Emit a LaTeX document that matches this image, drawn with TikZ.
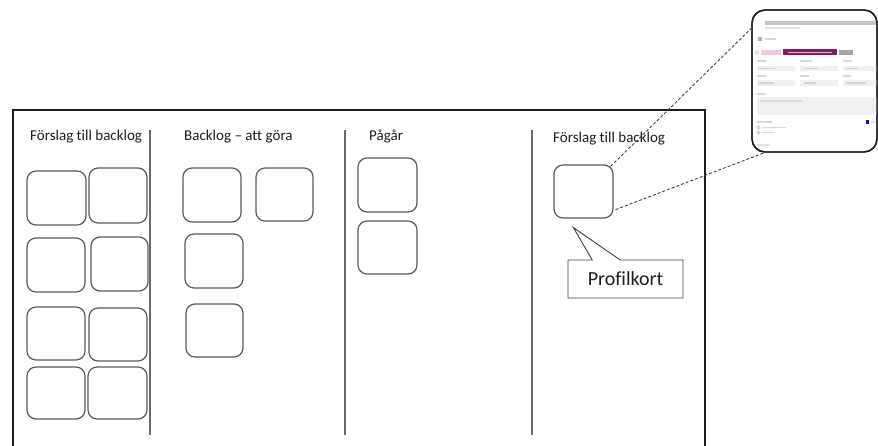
\documentclass[tikz,border=0pt]{standalone}
\usepackage{fontspec}
\setmainfont{Carlito}[Ligatures=NoCommon]
\usetikzlibrary{shapes.callouts}

\definecolor{ink}{HTML}{1E1E1E}
\definecolor{cardline}{HTML}{5A5A5A}
\definecolor{plum}{HTML}{8A1B5E}
\definecolor{blush}{HTML}{F2C9E0}

\tikzset{
  board/.style={draw=ink, line width=1.1pt},
  divider/.style={draw=cardline!90, line width=1.5pt},
  header/.style={anchor=base west, inner sep=0pt, text=ink,
                 font=\fontsize{15}{18}\selectfont},
  card/.style={draw=cardline, line width=1.2pt, rounded corners=9pt,
               inner sep=0pt},
  link/.style={draw=ink!85, line width=0.9pt, dash pattern=on 3pt off 2pt},
  callbox/.style={rectangle callout, draw=ink!85, line width=0.9pt, fill=white,
                  minimum width=115pt, minimum height=38pt, inner sep=0pt,
                  callout pointer width=28pt, text=ink,
                  font=\fontsize{20}{24}\selectfont},
  shotframe/.style={draw=ink, line width=1.4pt, rounded corners=13pt,
                    inner sep=0pt, fill=white},
  faint/.style={fill=gray!30, draw=none},
  field/.style={fill=gray!12, draw=none}
}

% card from its corner coordinates
\newcommand\card[5]{%
  \node[card, minimum width={(#4-#2)*1pt}, minimum height={(#5-#3)*1pt}]
    (#1) at ({(#2+#4)/2},{(#3+#5)/2}) {};}

\begin{document}
\begin{tikzpicture}[x=1pt, y=-1pt]
\useasboundingbox (0,0) rectangle (878,446);

% the board, open at the bottom
\draw[board] (13,446) -- (13,110) -- (705,110) -- (705,446);

% column dividers
\coordinate (d1t) at (150,130); \coordinate (d1b) at (150,435);
\coordinate (d2t) at (345,130); \coordinate (d2b) at (345,435);
\coordinate (d3t) at (532,130); \coordinate (d3b) at (532,435);
\draw[divider] (d1t) -- (d1b);
\draw[divider] (d2t) -- (d2b);
\draw[divider] (d3t) -- (d3b);

% column headers
\node[header] (h1) at (30,141)  {Förslag till backlog};
\node[header] (h2) at (184,141) {Backlog – att göra};
\node[header] (h3) at (369,141) {Pågår};
\node[header] (h4) at (553,143) {Förslag till backlog};

% cards: proposals
\card{a1}{27}{171}{86}{225}
\card{a2}{89}{168}{147}{223}
\card{a3}{27}{238}{85}{292}
\card{a4}{91}{237}{148}{291}
\card{a5}{27}{307}{85}{360}
\card{a6}{89}{308}{147}{361}
\card{a7}{27}{367}{85}{419}
\card{a8}{88}{367}{147}{419}

% cards: backlog
\card{b1}{183}{168}{241}{222}
\card{b2}{256}{168}{313}{221}
\card{b3}{185}{234}{243}{288}
\card{b4}{186}{304}{243}{357}

% cards: in progress
\card{p1}{358}{158}{417}{212}
\card{p2}{358}{221}{417}{274}

% card: proposal with profile
\card{c4}{554}{165}{613}{218}

% callout naming the card
\node[callbox, callout absolute pointer={([xshift=20pt,yshift=-9pt]c4.south west)}]
  (prof) at (625.5,279) {Profilkort};

% enlarged profile card
\node[shotframe, minimum width=125pt, minimum height=142pt] (shot) at (814.5,81) {};
\begin{scope}
  \clip[rounded corners=13pt] (752,10) rectangle (877,152);
  % title and subtitle
  \fill[gray!45] (765,21) rectangle (876,25);
  \fill[gray!22] (765,27) rectangle (800,29);
  % project line
  \fill[gray!60] (758,37) rectangle (762,41);
  \fill[faint] (765,38) rectangle (776,40);
  % labels row
  \draw[gray!60, line width=0.4pt] (757,52.5) circle (1.8);
  \fill[blush] (761,50) rectangle (781,55);
  \fill[plum] (783,49.5) rectangle (837,55.5);
  \fill[white!70!plum] (788,52) rectangle (832,53);
  \fill[gray!70] (839,50) rectangle (853,55);
  % bucket, progress, priority
  \fill[faint] (757,60) rectangle (766,62);
  \fill[faint] (800,60) rectangle (812,62);
  \fill[faint] (843,60) rectangle (852,62);
  \fill[field] (757,66) rectangle (795,71);
  \fill[field] (800,66) rectangle (838,71);
  \fill[field] (843,66) rectangle (877,71);
  \fill[gray!35] (759,68) rectangle (775,69.5);
  \fill[gray!35] (804,68) rectangle (818,69.5);
  \fill[gray!35] (846,68) rectangle (858,69.5);
  % dates and repeat
  \fill[faint] (757,75) rectangle (766,77);
  \fill[faint] (800,75) rectangle (809,77);
  \fill[faint] (843,75) rectangle (851,77);
  \fill[field] (757,80) rectangle (795,86);
  \fill[field] (800,80) rectangle (838,86);
  \fill[field] (843,80) rectangle (877,86);
  \fill[gray!35] (759,82.5) rectangle (774,84);
  \fill[gray!35] (804,82.5) rectangle (816,84);
  \fill[gray!35] (846,82.5) rectangle (866,84);
  % notes
  \fill[faint] (757,93) rectangle (765,95);
  \fill[field] (757,97) rectangle (877,115);
  \fill[gray!28] (760,100) rectangle (802,102);
  % checklist
  \fill[faint] (757,121) rectangle (772,123);
  \fill[blue!55!violet] (866,120.5) rectangle (869,124);
  \fill[gray!25] (871,121.5) rectangle (877,123);
  \draw[gray!55, line width=0.4pt] (758.5,127.5) circle (1.5);
  \fill[gray!28] (762,126.8) rectangle (786,128.3);
  \draw[gray!55, line width=0.4pt] (758.5,132.5) circle (1.5);
  \fill[gray!28] (762,131.8) rectangle (775,133.3);
  % attachments
  \fill[gray!22] (757,144) rectangle (770,146);
\end{scope}
\node[shotframe, fill=none, minimum width=125pt, minimum height=142pt] (shotedge) at (shot) {};

% zoom lines from the card to the enlarged card
\draw[link] ([xshift=-3pt,yshift=-2pt]c4.north east) -- ([yshift=-19pt]shot.north west);
\draw[link] ([xshift=2pt,yshift=9pt]c4.south east) -- ([xshift=13pt]shot.south west);
\end{tikzpicture}
\end{document}
